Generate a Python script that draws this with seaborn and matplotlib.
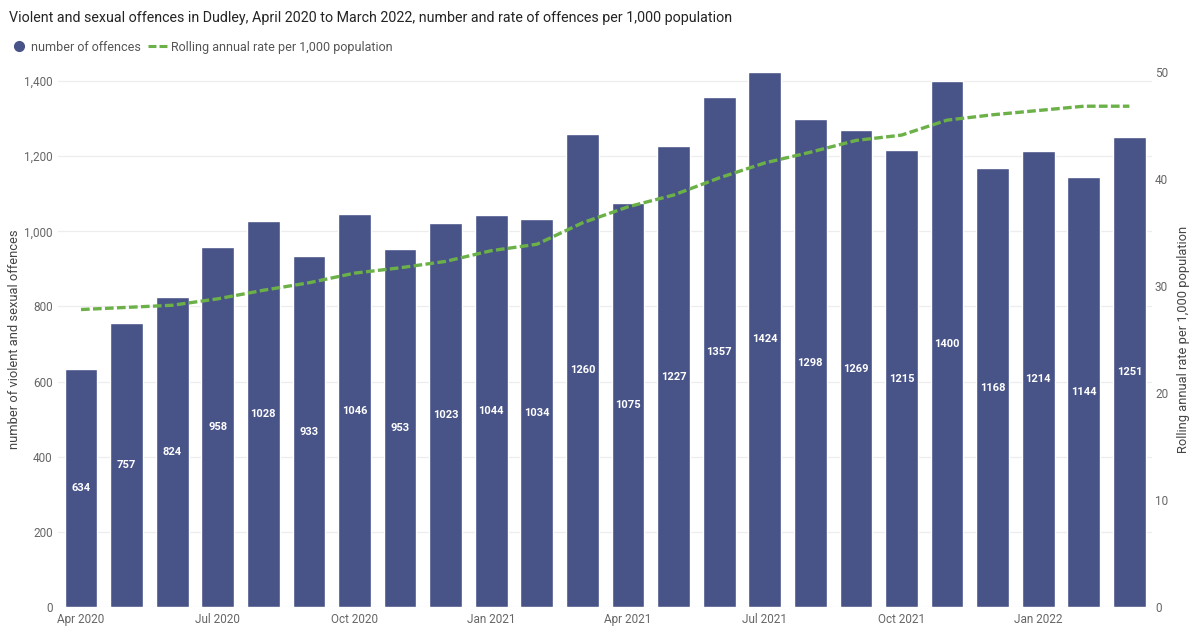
import numpy as np
import pandas as pd
import matplotlib
matplotlib.use("Agg")
import matplotlib.pyplot as plt
from matplotlib.lines import Line2D
import seaborn as sns

# Monthly data, April 2020 to March 2022
months = ["Apr 2020", "May 2020", "Jun 2020", "Jul 2020", "Aug 2020", "Sep 2020",
          "Oct 2020", "Nov 2020", "Dec 2020", "Jan 2021", "Feb 2021", "Mar 2021",
          "Apr 2021", "May 2021", "Jun 2021", "Jul 2021", "Aug 2021", "Sep 2021",
          "Oct 2021", "Nov 2021", "Dec 2021", "Jan 2022", "Feb 2022", "Mar 2022"]
offences = [634, 757, 824, 958, 1028, 933, 1046, 953, 1023, 1044, 1034, 1260,
            1075, 1227, 1357, 1424, 1298, 1269, 1215, 1400, 1168, 1214, 1144, 1251]
rolling_rate = [27.8, 28.0, 28.2, 28.8, 29.6, 30.3, 31.2, 31.7, 32.3, 33.3, 33.9, 35.9,
                37.4, 38.5, 40.1, 41.5, 42.5, 43.6, 44.1, 45.5, 46.0, 46.4, 46.8, 46.8]
tick_months = ["Apr 2020", "Jul 2020", "Oct 2020", "Jan 2021",
               "Apr 2021", "Jul 2021", "Oct 2021", "Jan 2022"]

BAR = "#485388"
GREEN = "#6CB148"
TICK = "#666666"

sns.set_theme(style="white")
plt.rcParams["font.family"] = ["Roboto", "DejaVu Sans"]

df = pd.DataFrame({"month": months, "offences": offences,
                   "rate": rolling_rate, "pos": np.arange(len(months))})

fig = plt.figure(figsize=(11.93, 6.28), dpi=100)
ax = fig.add_axes([0.0488, 0.0334, 0.917, 0.852])

sns.barplot(data=df, x="month", y="offences", color=BAR, saturation=1,
            width=0.72, ax=ax, zorder=2)
ax.set_xlim(-0.5, len(months) - 0.5)
ax.set_ylim(0, max(offences))
ax.set_yticks(np.arange(0, 1401, 200))
ax.set_yticklabels([f"{v:,}" for v in range(0, 1401, 200)])
ax.yaxis.grid(True, color="#EDEDED", linewidth=0.9, zorder=0)
ax.set_axisbelow(True)

tick_pos = [months.index(m) for m in tick_months]
ax.set_xticks(tick_pos)
ax.set_xticklabels(tick_months)
ax.tick_params(axis="both", length=0, labelsize=8.5, colors=TICK, pad=4)
ax.set_xlabel("")
ax.set_ylabel("number of violent and sexual offences", fontsize=9.3, color="#444444")
ax.yaxis.set_label_coords(-0.034, 0.5)
for s in ax.spines.values():
    s.set_visible(False)

# value labels centred inside each bar
for p, v in zip(df["pos"], df["offences"]):
    ax.text(p, v / 2, str(v), ha="center", va="center", color="white",
            fontsize=8, fontweight="bold", zorder=4)

ax2 = ax.twinx()
sns.lineplot(data=df, x="pos", y="rate", ax=ax2, color=GREEN, linewidth=2.4,
             dashes=False, zorder=3)
ax2.lines[0].set_dashes((2.6, 1.0))
ax2.set_ylim(0, 50)
ax2.set_yticks(np.arange(0, 51, 10))
ax2.tick_params(axis="y", length=0, labelsize=8.5, colors=TICK, pad=2)
ax2.set_ylabel("Rolling annual rate per 1,000 population", fontsize=9.3, color="#444444")
ax2.yaxis.set_label_coords(1.023, 0.5)
ax2.set_xlabel("")
ax2.grid(False)
for s in ax2.spines.values():
    s.set_visible(False)

fig.text(0.0075, 0.972, "Violent and sexual offences in Dudley, April 2020 to March 2022, number and rate of offences per 1,000 population",
         fontsize=10.3, color="#252423", ha="left", va="center")

handles = [Line2D([], [], marker="o", linestyle="none", color=BAR, markersize=7),
           Line2D([], [], color=GREEN, linewidth=2.2, dashes=(2.6, 1.0))]
fig.legend(handles, ["number of offences", "Rolling annual rate per 1,000 population"],
           loc="center left", bbox_to_anchor=(0.003, 0.925), ncol=2, frameon=False,
           fontsize=9, labelcolor="#555555", handlelength=1.6, handletextpad=0.2,
           columnspacing=0.6, borderaxespad=0)

fig.savefig("out.png", dpi=100)
